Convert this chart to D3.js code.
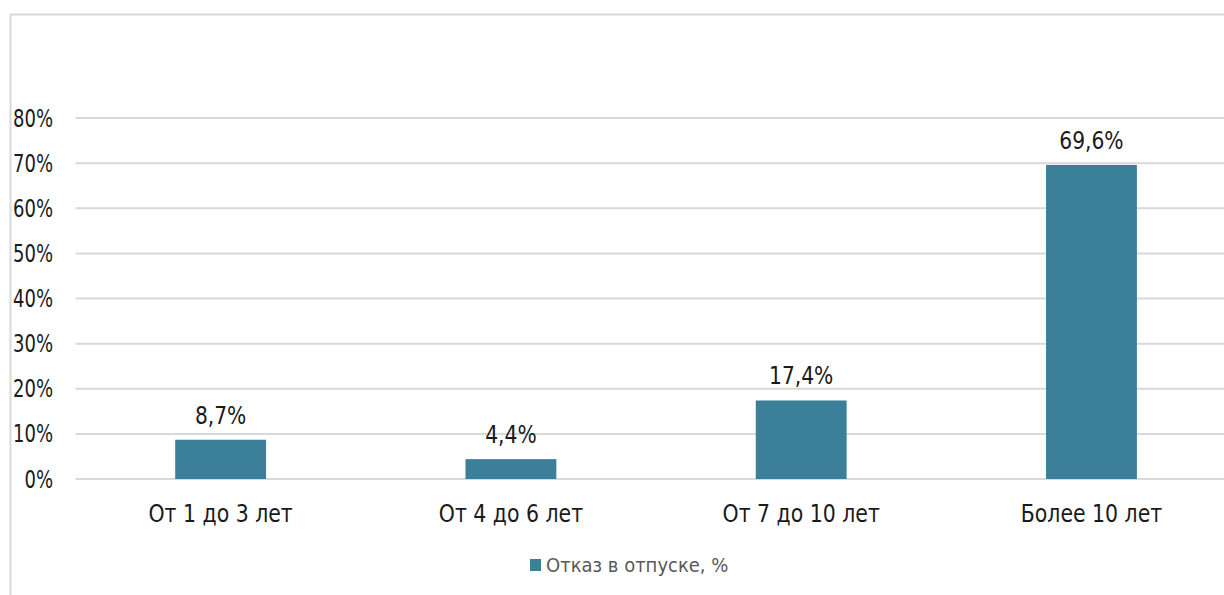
<!DOCTYPE html>
<html>
<head>
<meta charset="utf-8">
<script src="https://cdn.jsdelivr.net/npm/d3@7"></script>
<style>
  html, body { margin: 0; padding: 0; background: #ffffff; }
  svg { display: block; }
  text { font-family: "DejaVu Sans Condensed", "DejaVu Sans", sans-serif; }
</style>
</head>
<body>
<svg id="chart" width="1224" height="595"></svg>
<script>
// Доля отказов в отпуске по стажу работы
const categories = ["От 1 до 3 лет", "От 4 до 6 лет", "От 7 до 10 лет", "Более 10 лет"];
const values = [8.7, 4.4, 17.4, 69.6];
const valueLabels = ["8,7%", "4,4%", "17,4%", "69,6%"];
const yTicks = [0, 10, 20, 30, 40, 50, 60, 70, 80];
const seriesName = "Отказ в отпуске, %";

const svg = d3.select("#chart");
const barColor = "#3b7f99";
const gridColor = "#d9d9d9";
const textColor = "#1a1a1a";

// chart frame
svg.append("rect")
  .attr("x", 10.5).attr("y", 14.5)
  .attr("width", 1230).attr("height", 600)
  .attr("fill", "none")
  .attr("stroke", "#d9d9d9")
  .attr("stroke-width", 2);

const plotLeft = 75.5, plotRight = 1236.6;
const x = d3.scaleBand().domain(categories).range([plotLeft, plotRight]).paddingInner(0.687).paddingOuter(0.3435);
const y = d3.scaleLinear().domain([0, 80]).range([479, 118]);

// horizontal gridlines
svg.append("g").selectAll("line").data(yTicks).join("line")
  .attr("x1", plotLeft).attr("x2", 1224)
  .attr("y1", d => y(d)).attr("y2", d => y(d))
  .attr("stroke", gridColor).attr("stroke-width", 2);

// y axis labels (narrowed glyphs)
const yAxis = d3.axisLeft(y).tickValues(yTicks).tickFormat(d => d + "%").tickSize(0).tickPadding(0);
const yg = svg.append("g").attr("transform", "translate(53,0)").call(yAxis);
yg.select(".domain").remove();
yg.selectAll("text")
  .attr("x", 0)
  .attr("font-size", 25)
  .attr("fill", textColor)
  .attr("transform", "scale(0.8,1)")
  .style("font-family", null);

// bars
svg.append("g").selectAll("rect").data(values).join("rect")
  .attr("x", (d, i) => x(categories[i]))
  .attr("y", d => y(d))
  .attr("width", x.bandwidth())
  .attr("height", d => y(0) - y(d))
  .attr("fill", barColor);

// value labels
svg.append("g").selectAll("g").data(values).join("g")
  .attr("transform", (d, i) => `translate(${x(categories[i]) + x.bandwidth() / 2},${y(d) - 16})`)
  .append("text")
  .attr("text-anchor", "middle")
  .attr("font-size", 25)
  .attr("fill", textColor)
  .attr("transform", "scale(0.9,1)")
  .text((d, i) => valueLabels[i]);

// category axis
const xAxis = d3.axisBottom(x).tickSize(0).tickPadding(0);
const xg = svg.append("g").attr("transform", "translate(0,522)").call(xAxis);
xg.select(".domain").remove();
xg.selectAll("text")
  .attr("y", 0)
  .attr("dy", 0)
  .attr("font-size", 25)
  .attr("fill", textColor)
  .attr("transform", "scale(0.91,1)")
  .style("font-family", null);

// legend
const legend = svg.append("g").attr("transform", "translate(530,559)");
legend.append("rect").attr("width", 11).attr("height", 12).attr("fill", barColor);
legend.append("text")
  .attr("x", 16).attr("y", 13)
  .attr("font-size", 20)
  .attr("fill", "#595959")
  .text(seriesName);
</script>
</body>
</html>
